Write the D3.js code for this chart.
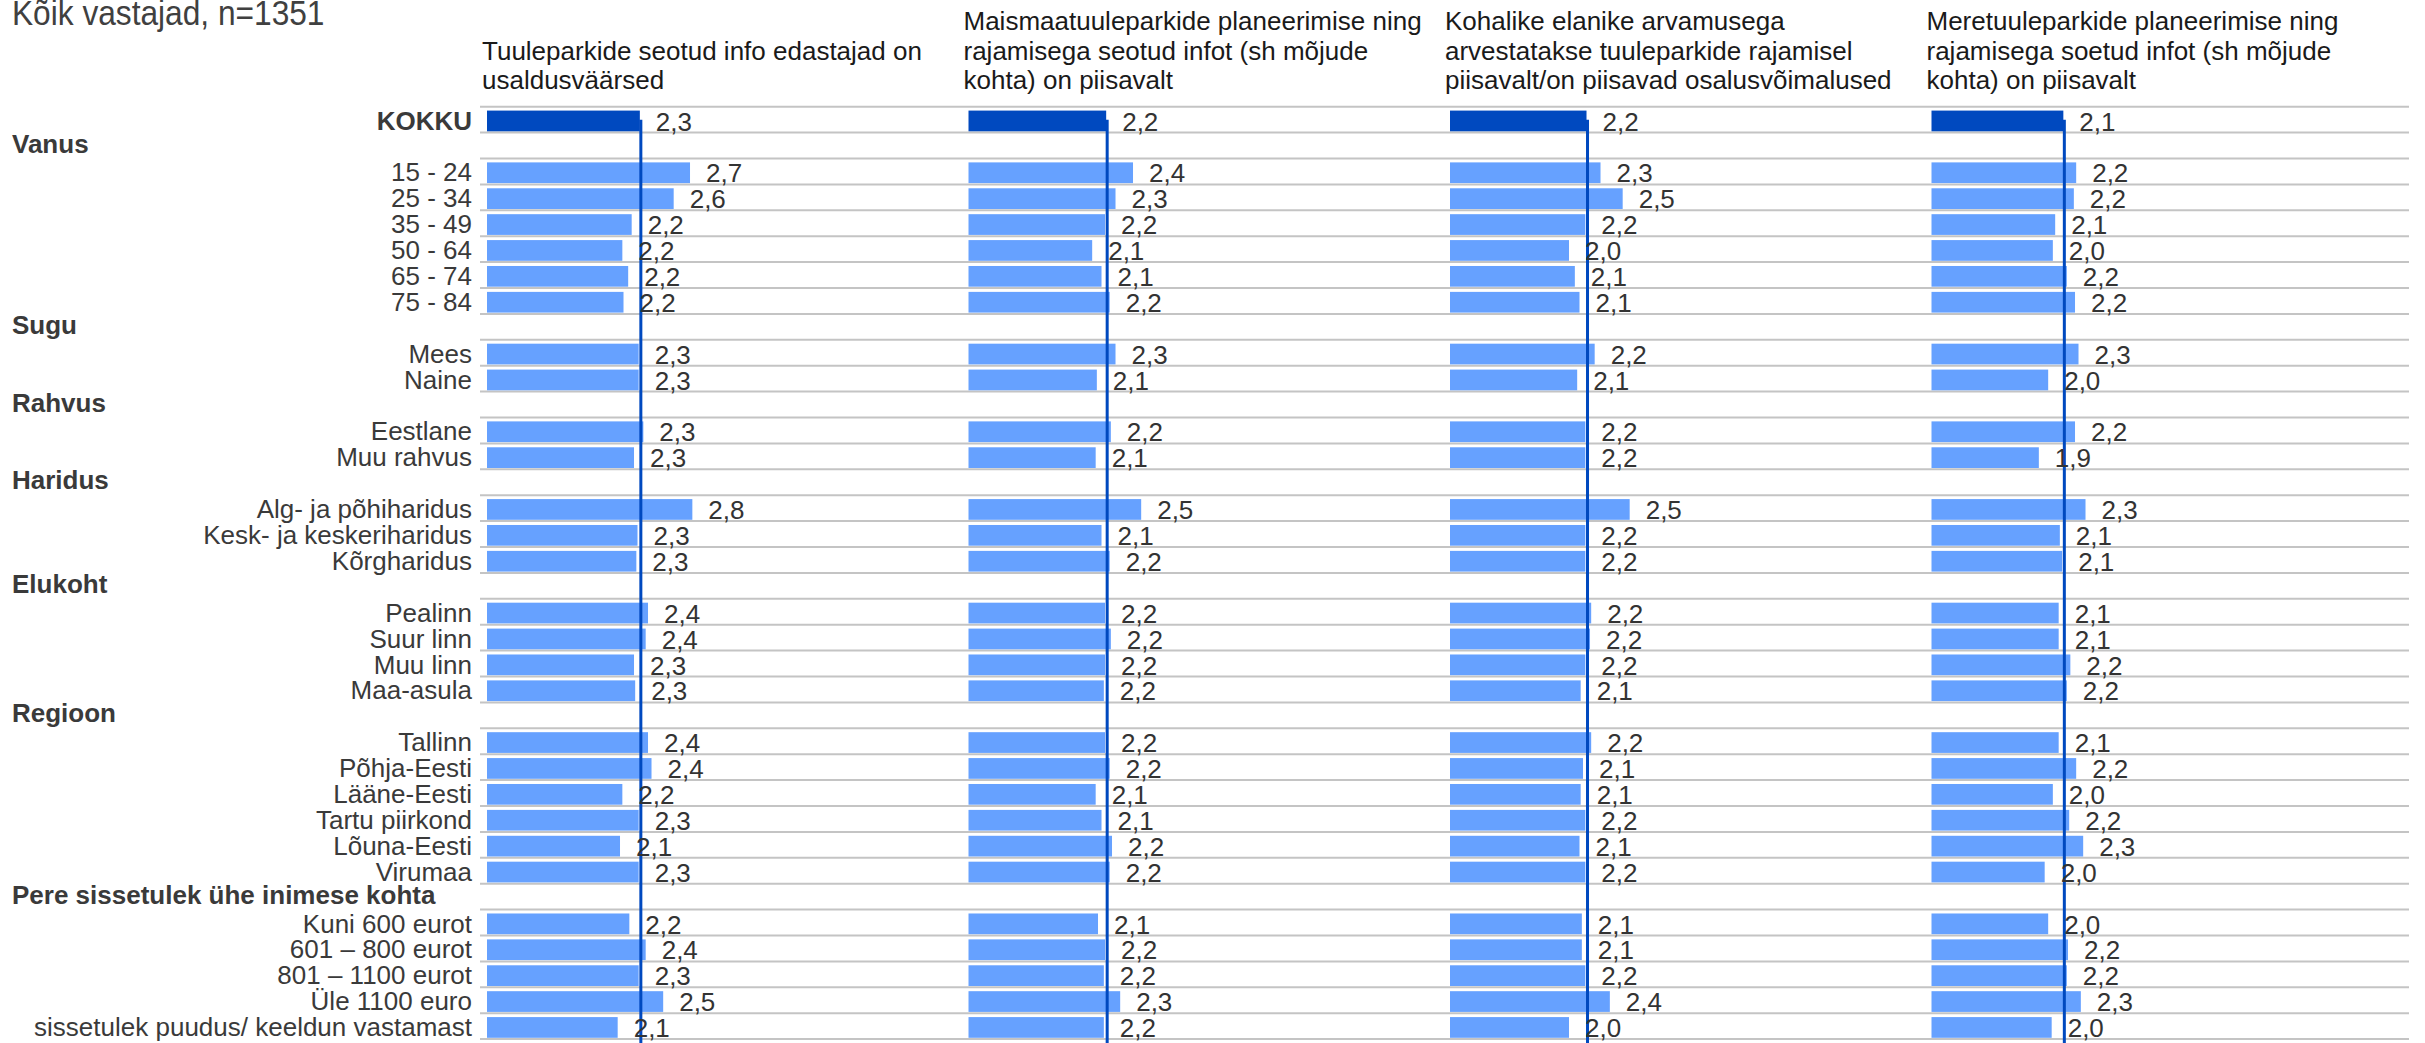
<!DOCTYPE html>
<html>
<head>
<meta charset="utf-8">
<script src="https://cdn.jsdelivr.net/npm/d3@7"></script>
<style>
body { margin: 0; background: #fff; overflow: hidden; }
text { font-family: "Liberation Sans", Arial, sans-serif; }
</style>
</head>
<body>
<script>
// andmed
var title = "Kõik vastajad, n=1351";
var totalLabel = "KOKKU";
var groupNames = ["Vanus", "Sugu", "Rahvus", "Haridus", "Elukoht", "Regioon", "Pere sissetulek ühe inimese kohta"];
var groupItems = [
  ["15 - 24", "25 - 34", "35 - 49", "50 - 64", "65 - 74", "75 - 84"],
  ["Mees", "Naine"],
  ["Eestlane", "Muu rahvus"],
  ["Alg- ja põhiharidus", "Kesk- ja keskeriharidus", "Kõrgharidus"],
  ["Pealinn", "Suur linn", "Muu linn", "Maa-asula"],
  ["Tallinn", "Põhja-Eesti", "Lääne-Eesti", "Tartu piirkond", "Lõuna-Eesti", "Virumaa"],
  ["Kuni 600 eurot", "601 – 800 eurot", "801 – 1100 eurot", "Üle 1100 euro", "sissetulek puudus/ keeldun vastamast"]
];
var panelTitles = [
  ["Tuuleparkide seotud info edastajad on", "usaldusväärsed"],
  ["Maismaatuuleparkide planeerimise ning", "rajamisega seotud infot (sh mõjude", "kohta) on piisavalt"],
  ["Kohalike elanike arvamusega", "arvestatakse tuuleparkide rajamisel", "piisavalt/on piisavad osalusvõimalused"],
  ["Meretuuleparkide planeerimise ning", "rajamisega soetud infot (sh mõjude", "kohta) on piisavalt"]
];
// KOKKU + 28 alamrühma, samas järjekorras
var values1 = [2.31, 2.74, 2.60, 2.24, 2.16, 2.21, 2.17, 2.30, 2.30, 2.34, 2.26, 2.76, 2.29, 2.28, 2.38, 2.36, 2.26, 2.27, 2.38, 2.41, 2.16, 2.30, 2.14, 2.30, 2.22, 2.36, 2.30, 2.51, 2.12];
var values2 = [2.18, 2.41, 2.26, 2.17, 2.06, 2.14, 2.21, 2.26, 2.10, 2.22, 2.09, 2.48, 2.14, 2.21, 2.17, 2.22, 2.17, 2.16, 2.17, 2.21, 2.09, 2.14, 2.23, 2.21, 2.11, 2.17, 2.16, 2.30, 2.16];
var values3 = [2.17, 2.29, 2.48, 2.16, 2.02, 2.07, 2.11, 2.24, 2.09, 2.16, 2.16, 2.54, 2.16, 2.16, 2.21, 2.20, 2.16, 2.12, 2.21, 2.14, 2.12, 2.16, 2.11, 2.16, 2.13, 2.13, 2.16, 2.37, 2.02];
var values4 = [2.13, 2.24, 2.22, 2.06, 2.04, 2.16, 2.23, 2.26, 2.00, 2.23, 1.92, 2.32, 2.10, 2.12, 2.09, 2.09, 2.19, 2.16, 2.09, 2.24, 2.04, 2.18, 2.30, 1.97, 2.00, 2.17, 2.16, 2.28, 2.03];
var panelValues = [values1, values2, values3, values4];

var width = 2425, height = 1043;
var darkBlue = "#0049bf", lightBlue = "#66a1ff";

// ridade tabel: total / grupi pealkiri / alamrühm
var rows = [{label: totalLabel, type: "total", vi: 0}];
var vi = 1;
groupNames.forEach(function(g, gi) {
  rows.push({label: g, type: "group"});
  groupItems[gi].forEach(function(it) {
    rows.push({label: it, type: "item", vi: vi});
    vi++;
  });
});

var svg = d3.select("body")
  .append("svg")
  .attr("width", width)
  .attr("height", height);

var y = d3.scaleBand()
  .domain(d3.range(rows.length))
  .range([106.7, 106.7 + rows.length * 25.9])
  .padding(0);
var bw = y.bandwidth();

var panel = d3.scaleBand()
  .domain(d3.range(4))
  .range([487, 487 + 4 * 481.5]);

var x = d3.scaleLinear()
  .domain([1, 5])
  .range([0, 466.7]);

var fmt = function(v) { return d3.format(".1f")(v).replace(".", ","); };

// pealkiri, ülevalt veidi ära lõigatud nagu originaalis
svg.append("text")
  .attr("transform", "translate(12,25) scale(0.88,1)")
  .style("font-size", "36px")
  .style("fill", "#404040")
  .text(title);

// ruudujooned
var lines = d3.range(rows.length + 1).map(function(i) { return 106.7 + i * bw; });
svg.append("g")
  .selectAll("line")
  .data(lines)
  .enter().append("line")
  .attr("x1", 480)
  .attr("x2", 2409)
  .attr("y1", function(d) { return d; })
  .attr("y2", function(d) { return d; })
  .style("stroke", "#c4c4c4")
  .style("stroke-width", 2);

// vasakpoolsed sildid
svg.append("g")
  .selectAll("text")
  .data(rows)
  .enter().append("text")
  .attr("x", function(d) { return d.type == "group" ? 12 : 472; })
  .attr("y", function(d, i) { return d.type == "group" ? y(i) + bw - 6 : y(i) + bw - 3; })
  .attr("text-anchor", function(d) { return d.type == "group" ? "start" : "end"; })
  .style("font-size", "26px")
  .style("font-weight", function(d) { return d.type == "item" ? "normal" : "bold"; })
  .style("fill", "#3a3a3a")
  .text(function(d) { return d.label; });

panelValues.forEach(function(vals, p) {
  var x0 = panel(p);
  var g = svg.append("g").attr("transform", "translate(" + x0 + ",0)");

  var ttl = panelTitles[p];
  g.append("g")
    .selectAll("text")
    .data(ttl)
    .enter().append("text")
    .attr("x", -5)
    .attr("y", function(d, i) { return 89 - (ttl.length - 1 - i) * 29.5; })
    .style("font-size", "26px")
    .style("fill", "#1a1a1a")
    .text(function(d) { return d; });

  var data = rows.map(function(r, i) { return {row: i, type: r.type, v: r.type == "group" ? null : vals[r.vi]}; })
    .filter(function(d) { return d.v != null; });

  g.append("g")
    .selectAll("rect")
    .data(data)
    .enter().append("rect")
    .attr("x", 0)
    .attr("y", function(d) { return y(d.row) + bw * 0.15; })
    .attr("width", function(d) { return x(d.v); })
    .attr("height", bw * 0.8)
    .attr("fill", function(d) { return d.type == "total" ? darkBlue : lightBlue; });

  // keskmise joon
  g.append("line")
    .attr("x1", x(vals[0]) + 1)
    .attr("x2", x(vals[0]) + 1)
    .attr("y1", y(0) + bw * 0.5)
    .attr("y2", height)
    .style("stroke", darkBlue)
    .style("stroke-width", 3);

  g.append("g")
    .selectAll("text")
    .data(data)
    .enter().append("text")
    .attr("x", function(d) { return x(d.v) + 16; })
    .attr("y", function(d) { return y(d.row) + bw - 2; })
    .style("font-size", "26px")
    .style("fill", "#333")
    .text(function(d) { return fmt(d.v); });
});
</script>
</body>
</html>
